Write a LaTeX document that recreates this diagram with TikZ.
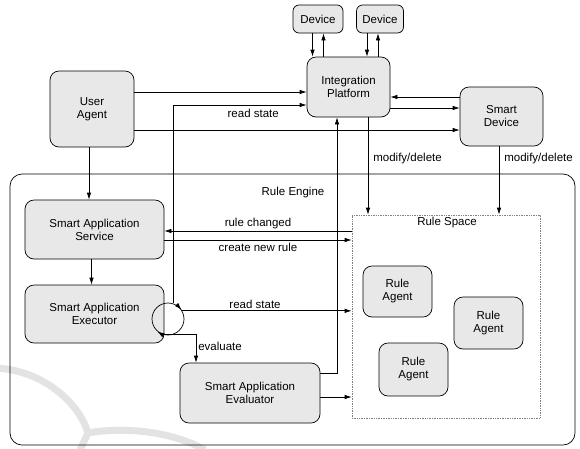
\documentclass[tikz,border=0pt]{standalone}
\usepackage{fontspec}
\setmainfont{Liberation Sans}
\usepackage{tikz}
\usetikzlibrary{arrows.meta}
\usepackage{xcolor}

\begin{document}
\begin{tikzpicture}[x=1pt,y=-1pt,line width=0.7pt,
			>={Latex[length=7pt,width=4.5pt]}]
			\tikzstyle{every node}=[font=\fontsize{11.5}{13}\selectfont, align=center]
			\tikzstyle{box}=[draw, rounded corners=9pt, fill=gray!18, inner sep=0pt]
			\tikzstyle{lbl}=[inner sep=1pt]
			\useasboundingbox (0,0) rectangle (580,448);
			% watermark
			\draw[gray!22, line width=7pt] (-5,368) .. controls (45,370) and (80,405) .. (88,433) -- (80,450);
			\draw[gray!22, line width=7pt] (88,433) .. controls (120,427) and (170,430) .. (205,450);
			% engine and space
			\node (engine) [draw, rounded corners=12pt, minimum width=565, minimum height=271] at (292.5,309.5) {};
			\node (enginelbl) [lbl] at (293,193) {Rule Engine};
			\node (space) [draw=gray, densely dotted, minimum width=188, minimum height=203] at (446,316.5) {};
			\node (spacelbl) [lbl] at (447,223) {Rule Space};
			% boxes
			\node (dev1) [box, rounded corners=6pt, minimum width=50, minimum height=28] at (318,19) {Device};
			\node (dev2) [box, rounded corners=6pt, minimum width=47, minimum height=28] at (380,19) {Device};
			\node (ip) [box, minimum width=83, minimum height=60] at (348.5,87) {Integration\\Platform};
			\node (sd) [box, minimum width=83, minimum height=59] at (501.5,116.5) {Smart\\Device};
			\node (ua) [box, minimum width=84, minimum height=76] at (92,109) {User\\Agent};
			\node (sas) [box, minimum width=139, minimum height=59] at (94.5,229.5) {Smart Application\\Service};
			\node (exe) [box, minimum width=139, minimum height=58] at (94.5,314) {Smart Application\\Executor};
			\node (eva) [box, minimum width=140, minimum height=60] at (250,393) {Smart Application\\Evaluator};
			\node (ra1) [box, minimum width=69, minimum height=51] at (397.5,291.5) {Rule\\Agent};
			\node (ra2) [box, minimum width=69, minimum height=52] at (488.5,323) {Rule\\Agent};
			\node (ra3) [box, minimum width=69, minimum height=53] at (413.5,369.5) {Rule\\Agent};
			\node (loop) [draw, circle, minimum size=32, inner sep=0pt] at (168,319) {};
			\draw[->] (loop.50) -- (loop.35);
			\draw[->] (loop.245) -- (loop.230);
			% devices
			\draw[->] ([xshift=-5.5pt]dev1.south) -- ([xshift=-5.5pt]dev1.south |- ip.north);
			\draw[<-] ([xshift=5.5pt]dev1.south) -- ([xshift=5.5pt]dev1.south |- ip.north);
			\draw[->] ([xshift=-13pt]dev2.south) -- ([xshift=-13pt]dev2.south |- ip.north);
			\draw[<-] ([xshift=-2pt]dev2.south) -- ([xshift=-2pt]dev2.south |- ip.north);
			% user agent
			\draw[->] ([yshift=17pt]ua.east) -- ([yshift=17pt]ua.east -| ip.west);
			\draw[->] ([yshift=-21pt]ua.east) -- ([yshift=-21pt]ua.east -| sd.west);
			\draw[->] ([xshift=-3pt]ua.south) -- ([xshift=-3pt]ua.south |- sas.north);
			\draw[<-] ([yshift=-10pt]ip.east) -- ([yshift=-10pt]ip.east -| sd.west);
			\draw[->] ([yshift=-21pt]ip.east) -- ([yshift=-21pt]ip.east -| sd.west);
			% into the rule space
			\draw[->] ([xshift=19.5pt]ip.south) -- ([xshift=19.5pt]ip.south |- space.north)
				node (md1) [lbl, pos=0.42, right=4pt] {modify/delete};
			\draw[->] ([xshift=-2.5pt]sd.south) -- ([xshift=-2.5pt]sd.south |- space.north)
				node (md2) [lbl, pos=0.18, right=4pt] {modify/delete};
			\draw[<-] ([yshift=-1.5pt]sas.east) -- ([yshift=-1.5pt]sas.east -| space.west)
				node (rc) [lbl, pos=0.5, above=1pt] {rule changed};
			\draw[->] ([yshift=-10.5pt]sas.east) -- ([yshift=-10.5pt]sas.east -| space.west)
				node (cnr) [lbl, pos=0.5, below=2pt] {create new rule};
			\draw[->] ([xshift=-3pt]sas.south) -- ([xshift=-3pt]sas.south |- exe.north);
			% executor loop
			\draw[->] (loop.72) |- ([yshift=-18pt]ip.west)
				node (rs1) [lbl, pos=0.8, below=3pt] {read state};
			\draw[->] (loop.30) -- (loop.30 -| space.west)
				node (rs2) [lbl, pos=0.43, above=1pt] {read state};
			\draw[->] ([yshift=-20pt]exe.east) -| ([xshift=-54pt]eva.north)
				node (ev) [lbl, pos=0.72, right=1pt] {evaluate};
			% evaluator
			\draw[->] ([yshift=20pt]eva.east) -| ([xshift=-11.5pt]ip.south);
			\draw[->] ([yshift=-4pt]eva.east) -- ([yshift=-4pt]eva.east -| space.west);
		\end{tikzpicture}
\end{document}
